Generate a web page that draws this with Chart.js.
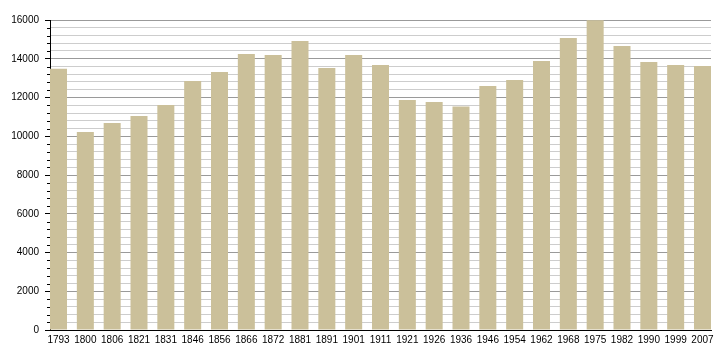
<!DOCTYPE html>
<html>
<head>
<meta charset="utf-8">
<script src="https://cdn.jsdelivr.net/npm/chart.js@4/dist/chart.umd.min.js"></script>
<style>
    html, body { margin: 0; padding: 0; background: #fff; }
    #wrap { width: 720px; height: 360px; }
</style>
</head>
<body>
<div id="wrap"><canvas id="popChart" width="720" height="360"></canvas></div>
<script>
// census years and population
const years = ['1793', '1800', '1806', '1821', '1831', '1846', '1856', '1866', '1872', '1881',
    '1891', '1901', '1911', '1921', '1926', '1936', '1946', '1954', '1962', '1968',
    '1975', '1982', '1990', '1999', '2007'];
const population = [13480, 10220, 10690, 11050, 11610, 12850, 13320, 14250, 14190, 14920,
    13520, 14190, 13680, 11870, 11770, 11530, 12590, 12900, 13880, 15070,
    15990, 14660, 13830, 13680, 13630];
const yTicks = { min: 0, max: 16000, step: 400, major: 2000 };

const barColor = '#cbc09a';
const barFrac = 0.634; // bar width relative to spacing

// short ticks for the minor gridlines
const minorTicks = {
    id: 'minorTicks',
    afterDraw(chart) {
        const y = chart.scales.y;
        const ctx = chart.ctx;
        ctx.save();
        ctx.strokeStyle = '#000';
        ctx.lineWidth = 1;
        for (let v = yTicks.min; v <= yTicks.max; v += yTicks.step) {
            if (v % yTicks.major === 0) continue;
            const py = Math.round(y.getPixelForValue(v)) + 0.5;
            ctx.beginPath();
            ctx.moveTo(y.right - 3, py);
            ctx.lineTo(y.right, py);
            ctx.stroke();
        }
        ctx.restore();
    }
};

new Chart(document.getElementById('popChart').getContext('2d'), {
    type: 'bar',
    data: {
        datasets: [{
            data: years.map((yr, i) => ({ x: i, y: population[i] })),
            backgroundColor: barColor,
            borderWidth: 0,
            barPercentage: barFrac,
            categoryPercentage: 1
        }]
    },
    options: {
        responsive: false,
        animation: false,
        layout: { padding: { top: 20, right: 9, left: 0, bottom: 0 } },
        plugins: { legend: { display: false }, tooltip: { enabled: false } },
        scales: {
            x: {
                type: 'linear',
                min: -barFrac / 2,
                max: years.length - 1 + barFrac / 2,
                offset: false,
                afterBuildTicks: s => { s.ticks = years.map((_, i) => ({ value: i })); },
                afterFit: s => { s.height = 30; },
                grid: { display: false, drawTicks: false },
                border: { display: true, color: '#000', width: 1 },
                ticks: {
                    autoSkip: false,
                    maxRotation: 0,
                    padding: 4,
                    color: '#000',
                    font: { family: 'Liberation Sans', size: 10 },
                    callback: v => years[v] ?? ''
                }
            },
            y: {
                min: yTicks.min,
                max: yTicks.max,
                afterFit: s => { s.width = 50; },
                grid: {
                    color: c => (c.tick && c.tick.value % yTicks.major === 0) ? '#9a9a9a' : '#cdcdcd',
                    tickColor: c => (c.tick && c.tick.value % yTicks.major === 0) ? '#000' : 'rgba(0,0,0,0)',
                    tickLength: 5
                },
                border: { display: true, color: '#000', width: 1 },
                ticks: {
                    stepSize: yTicks.step,
                    autoSkip: false,
                    padding: 6,
                    color: '#000',
                    font: { family: 'Liberation Sans', size: 10 },
                    callback: v => (v % yTicks.major === 0) ? String(v) : ''
                }
            }
        }
    },
    plugins: [minorTicks]
});
</script>
</body>
</html>
